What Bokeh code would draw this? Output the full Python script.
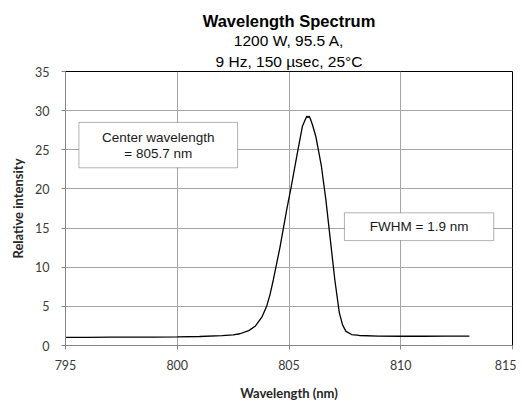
from bokeh.plotting import figure
from bokeh.models import Range1d, Title, BoxAnnotation, Label, FixedTicker
from bokeh.embed import file_html
from bokeh.resources import INLINE

# Spectrum data
wavelength = [795.0, 796.0, 797.0, 798.0, 799.0, 800.0, 801.0, 802.0, 802.5, 802.8,
              803.2, 803.5, 803.8, 804.0, 804.15, 804.3, 804.6, 804.9, 805.1, 805.4,
              805.6, 805.75, 805.8, 805.85, 805.9, 805.95, 806.05, 806.2, 806.45, 806.65,
              806.85, 807.05, 807.25, 807.4, 807.55, 807.8, 808.15, 809.0, 810.0, 811.0,
              812.0, 813.07]
intensity = [1.05, 1.05, 1.06, 1.07, 1.08, 1.1, 1.15, 1.25, 1.35, 1.5,
             1.9, 2.5, 3.7, 5.0, 6.5, 8.4, 12.6, 17.4, 20.3, 25.0,
             28.0, 29.0, 29.3, 29.1, 29.3, 29.0, 28.2, 26.7, 22.9, 18.6,
             13.5, 8.4, 4.2, 2.6, 1.8, 1.4, 1.28, 1.2, 1.18, 1.18,
             1.2, 1.2]

x_ticks = [795, 800, 805, 810, 815]
y_ticks = [0, 5, 10, 15, 20, 25, 30, 35]

title_main = "Wavelength Spectrum"
title_line2 = "1200 W, 95.5 A,"
title_line3 = "9 Hz, 150 µsec, 25°C"
center_text = ["Center wavelength", "= 805.7 nm"]
fwhm_text = "FWHM = 1.9 nm"

p = figure(frame_width=447, frame_height=274,
           x_range=Range1d(795, 815), y_range=Range1d(0, 35),
           output_backend="svg", toolbar_location=None,
           title=title_main,
           min_border_left=65, min_border_right=4,
           min_border_top=71, min_border_bottom=52)

p.title.align = "center"
p.title.text_font = "Liberation Sans"
p.title.text_font_size = "16.5px"
p.title.text_font_style = "bold"
p.title.text_color = "black"
p.title.standoff = 0

# titles added first sit closest to the frame
t3 = Title(text=title_line3, align="center", text_font="Liberation Sans",
           text_font_size="15.5px", text_font_style="normal", text_color="black", standoff=4)
p.add_layout(t3, "above")
t2 = Title(text=title_line2, align="center", text_font="Liberation Sans",
           text_font_size="15.5px", text_font_style="normal", text_color="black", standoff=0)
p.add_layout(t2, "above")

p.background_fill_color = "white"
p.border_fill_color = "white"
p.outline_line_color = "black"
p.outline_line_width = 1

for ax, ticks in ((p.xaxis, x_ticks), (p.yaxis, y_ticks)):
    ax.ticker = FixedTicker(ticks=ticks)
    ax.axis_line_color = "#868686"
    ax.major_tick_line_color = "#868686"
    ax.major_tick_out = 4
    ax.major_tick_in = 0
    ax.minor_tick_out = 0
    ax.minor_tick_in = 0
    ax.major_label_text_font = "Lato"
    ax.major_label_text_font_size = "12.5px"
    ax.major_label_text_color = "#3a3a3a"
    ax.axis_label_text_font = "Lato"
    ax.axis_label_text_font_size = "13px"
    ax.axis_label_text_font_style = "bold"
    ax.axis_label_text_color = "#262626"

p.xaxis.axis_label = "Wavelength (nm)"
p.yaxis.axis_label = "Relative intensity"
p.xaxis.major_label_standoff = 10
p.xaxis.axis_label_standoff = 12
p.yaxis.major_label_standoff = 12
p.yaxis.axis_label_standoff = 6

p.xgrid.grid_line_color = "#a6a6a6"
p.ygrid.grid_line_color = "#a6a6a6"
p.xgrid.grid_line_width = 1
p.ygrid.grid_line_width = 1

p.line(wavelength, intensity, line_color="black", line_width=1.3)

box1 = BoxAnnotation(left=795.6, right=802.7, bottom=22.7, top=28.5,
                     fill_color="white", fill_alpha=1.0, line_color="black", line_width=1)
box2 = BoxAnnotation(left=807.48, right=814.16, bottom=13.4, top=16.95,
                     fill_color="white", fill_alpha=1.0, line_color="black", line_width=1)
p.add_layout(box1)
p.add_layout(box2)

for txt, yv in zip(center_text, [26.6, 24.5]):
    p.add_layout(Label(x=799.15, y=yv, text=txt, text_align="center", text_baseline="middle",
                       text_font="Liberation Sans", text_font_size="13.5px", text_color="#1a1a1a"))
p.add_layout(Label(x=810.82, y=15.2, text=fwhm_text, text_align="center", text_baseline="middle",
                   text_font="Liberation Sans", text_font_size="13.5px", text_color="#1a1a1a"))

open("out.html", "w").write(file_html(p, INLINE))
